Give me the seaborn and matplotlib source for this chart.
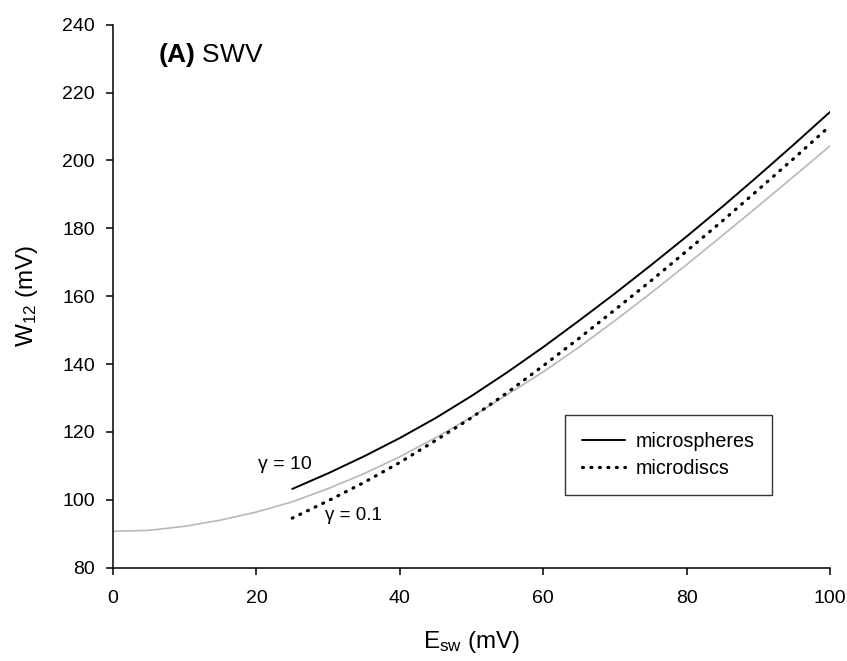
import numpy as np
import pandas as pd
import matplotlib
matplotlib.use("Agg")
import matplotlib.pyplot as plt
import seaborn as sns

# ---- data ----
esw_gray = [0, 5, 10, 15, 20, 25, 30, 35, 40, 45, 50, 55, 60, 65, 70, 75, 80, 85, 90, 95, 100]
w12_gray = [90.7, 91.0, 92.2, 94.0, 96.4, 99.4, 103.3, 107.7, 112.7, 118.3, 124.4,
            131.0, 137.7, 145.0, 152.8, 160.9, 169.3, 177.9, 186.6, 195.4, 204.3]

esw_sph = [25, 30, 35, 40, 45, 50, 55, 60, 65, 70, 75, 80, 85, 90, 95, 100]
w12_sph = [103.2, 107.8, 112.8, 118.2, 124.1, 130.6, 137.6, 145.0, 152.8, 160.8,
           169.1, 177.6, 186.4, 195.5, 204.8, 214.3]

esw_disc = [25, 30, 35, 40, 45, 50, 55, 60, 65, 70, 75, 80, 85, 90, 95, 100]
w12_disc = [94.6, 99.7, 105.1, 111.0, 117.5, 124.2, 131.6, 139.5, 147.6, 156.0,
            164.5, 173.3, 182.2, 191.4, 200.7, 210.2]

xticks = [0, 20, 40, 60, 80, 100]
yticks = [80, 100, 120, 140, 160, 180, 200, 220, 240]

sns.set_theme(style="ticks")
plt.rcParams['font.family'] = ['Liberation Sans', 'DejaVu Sans']
plt.rcParams['mathtext.fontset'] = 'custom'
plt.rcParams['mathtext.rm'] = 'Liberation Sans'
plt.rcParams['mathtext.bf'] = 'Liberation Sans:bold'
for k in ['text.color', 'axes.labelcolor', 'xtick.color', 'ytick.color', 'axes.edgecolor']:
    plt.rcParams[k] = 'black'

fig = plt.figure(figsize=(8.47, 6.61), dpi=100)
ax = fig.add_axes([0.1334, 0.1412, 0.98 - 0.1334, 0.9626 - 0.1412])

df_g = pd.DataFrame({"x": esw_gray, "y": w12_gray})
df_s = pd.DataFrame({"x": esw_sph, "y": w12_sph})
df_d = pd.DataFrame({"x": esw_disc, "y": w12_disc})

sns.lineplot(data=df_g, x="x", y="y", ax=ax, color="#b9b9b1", linewidth=1.2)
sns.lineplot(data=df_s, x="x", y="y", ax=ax, color="black", linewidth=1.4,
             label="microspheres")
sns.lineplot(data=df_d, x="x", y="y", ax=ax, color="black", linewidth=2.3,
             linestyle=(0, (0.3, 2.35)), dash_capstyle="round",
             label="microdiscs")

ax.set_xlim(0, 100)
ax.set_ylim(80, 240)
ax.set_xticks(xticks)
ax.set_yticks(yticks)
ax.tick_params(axis='both', labelsize=14, length=5, width=1.1, direction='out')
ax.tick_params(axis='x', pad=11)
ax.tick_params(axis='y', pad=8)
for s in ['left', 'bottom']:
    ax.spines[s].set_linewidth(1.1)
sns.despine(ax=ax)

ax.set_xlabel(r'$\mathregular{E_{sw}}$ (mV)', fontsize=17.5, labelpad=16)
ax.set_ylabel(r'$\mathregular{W_{12}}$ (mV)', fontsize=17.5, labelpad=16)

ax.text(6.3, 231.0, r'$\mathbf{(A)}$ SWV', fontsize=19, ha='left', va='center')

ax.text(20.2, 110.3, "γ = 10", fontsize=14, ha='left', va='center')
ax.text(29.6, 95.5, "γ = 0.1", fontsize=13.5, ha='left', va='center')

leg = ax.legend(loc='upper left', bbox_to_anchor=(0.630, 0.281), fontsize=14.2,
                frameon=True, fancybox=False, handlelength=2.2, handletextpad=0.55,
                borderpad=0.85, labelspacing=0.42, borderaxespad=0)
leg.get_frame().set_edgecolor('black')
leg.get_frame().set_linewidth(1.0)
leg.get_frame().set_facecolor('white')

fig.savefig("out.png", dpi=100)
